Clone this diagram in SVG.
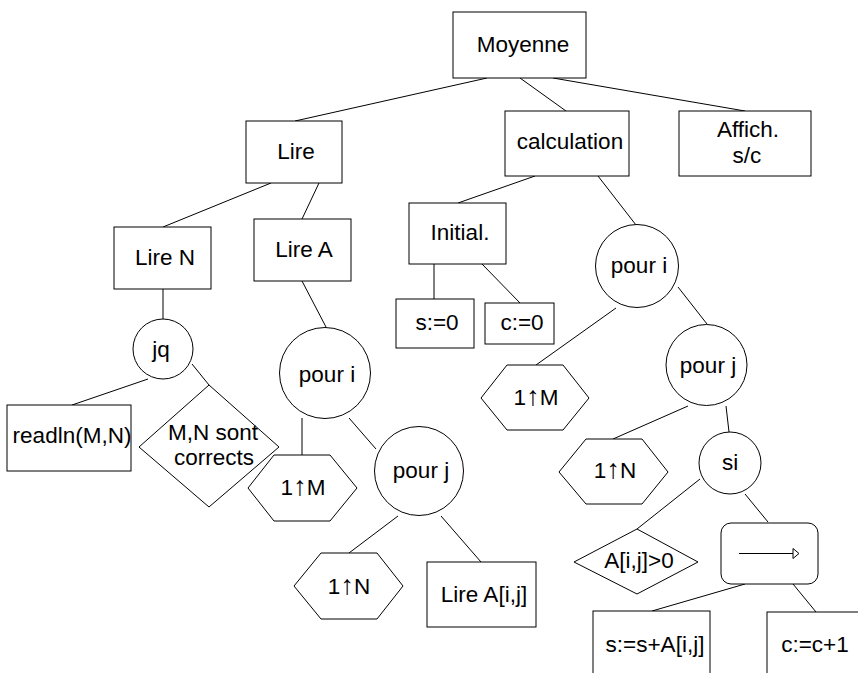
<svg xmlns="http://www.w3.org/2000/svg" width="858" height="673" viewBox="0 0 858 673">
<defs>
<style>
.s{fill:#fff;stroke:#000;stroke-width:1}
.c line{stroke:#000;stroke-width:1}
text{font-family:"Liberation Sans",Arial,sans-serif;font-size:22.5px;fill:#000;text-anchor:middle}
.ar{font-size:27px}
</style>
</defs>
<rect width="858" height="673" fill="#fff"/>
<g id="connectors" class="c">
<line x1="487" y1="78" x2="295" y2="121"/>
<line x1="520" y1="78" x2="566" y2="111"/>
<line x1="553" y1="78" x2="745" y2="111"/>
<line x1="271" y1="183" x2="163" y2="227"/>
<line x1="319" y1="183" x2="302" y2="219"/>
<line x1="163" y1="289" x2="163" y2="319"/>
<line x1="148" y1="379" x2="72" y2="405"/>
<line x1="192" y1="364" x2="209" y2="385"/>
<line x1="302" y1="281" x2="326" y2="327"/>
<line x1="302" y1="418" x2="302" y2="455"/>
<line x1="349" y1="418" x2="376" y2="449"/>
<line x1="398" y1="516" x2="349" y2="553"/>
<line x1="441" y1="516" x2="481" y2="562"/>
<line x1="535" y1="176" x2="458" y2="203"/>
<line x1="598" y1="176" x2="636" y2="225"/>
<line x1="434" y1="264" x2="434" y2="299"/>
<line x1="482" y1="264" x2="520" y2="303"/>
<line x1="616" y1="308" x2="536" y2="365"/>
<line x1="678" y1="287" x2="707" y2="324"/>
<line x1="688" y1="406" x2="613" y2="439"/>
<line x1="726" y1="406" x2="729" y2="432"/>
<line x1="700" y1="479" x2="637" y2="529"/>
<line x1="745" y1="494" x2="768" y2="522"/>
<line x1="745" y1="584" x2="652" y2="611"/>
<line x1="793" y1="584" x2="816" y2="612"/>
</g>
<g id="moyenne"><rect class="s" x="453" y="12" width="133" height="66"/><text x="523" y="52">Moyenne</text></g>
<g id="lire"><rect class="s" x="246" y="121" width="96" height="62"/><text x="296" y="159">Lire</text></g>
<g id="calculation"><rect class="s" x="505" y="111" width="124" height="65"/><text x="570" y="149">calculation</text></g>
<g id="affich"><rect class="s" x="679" y="111" width="132" height="65"/><text x="748" y="137">Affich.</text><text x="747" y="163">s/c</text></g>
<g id="lireN"><rect class="s" x="114" y="227" width="97" height="62"/><text x="165" y="265">Lire N</text></g>
<g id="lireA"><rect class="s" x="254" y="219" width="97" height="62"/><text x="304" y="257">Lire A</text></g>
<g id="jq"><circle class="s" cx="163" cy="349" r="30"/><text x="161" y="357">jq</text></g>
<g id="readln"><rect class="s" x="7" y="405" width="124" height="66"/><text x="72" y="443">readln(M,N)</text></g>
<g id="correct"><polygon class="s" points="209,385 279,447 209,507 139,447"/><text x="213" y="440">M,N sont</text><text x="214" y="465">corrects</text></g>
<g id="pouriA"><circle class="s" cx="325" cy="373" r="45.5"/><text x="327" y="382">pour i</text></g>
<g id="hexM1"><polygon class="s" points="248,488 274,455 330,455 357,488 330,521 274,521"/><text x="303" y="495">1<tspan class="ar">↑</tspan>M</text></g>
<g id="pourjA"><circle class="s" cx="419" cy="471" r="44.5"/><text x="421" y="478">pour j</text></g>
<g id="hexN1"><polygon class="s" points="294,586 321,553 377,553 403,586 377,619 321,619"/><text x="349" y="594">1<tspan class="ar">↑</tspan>N</text></g>
<g id="lireAij"><rect class="s" x="427" y="562" width="109" height="65"/><text x="484" y="602">Lire A[i,j]</text></g>
<g id="initial"><rect class="s" x="409" y="203" width="97" height="61"/><text x="460" y="240">Initial.</text></g>
<g id="s0"><rect class="s" x="396" y="299" width="78" height="49"/><text x="437" y="330">s:=0</text></g>
<g id="c0"><rect class="s" x="485" y="303" width="69" height="41"/><text x="522" y="330">c:=0</text></g>
<g id="pouriC"><circle class="s" cx="637" cy="266" r="41.5"/><text x="639" y="273">pour i</text></g>
<g id="hexM2"><polygon class="s" points="481,398 507,365 563,365 589,398 563,430 507,430"/><text x="536" y="405">1<tspan class="ar">↑</tspan>M</text></g>
<g id="pourjC"><circle class="s" cx="706.5" cy="365" r="40.5"/><text x="708" y="373">pour j</text></g>
<g id="hexN2"><polygon class="s" points="559,472 586,439 642,439 668,472 642,504 586,504"/><text x="615" y="478">1<tspan class="ar">↑</tspan>N</text></g>
<g id="si"><circle class="s" cx="730" cy="463" r="31"/><text x="730" y="470">si</text></g>
<g id="cond"><polygon class="s" points="637,529 698,562 637,594 574,562"/><text x="639" y="568">A[i,j]&gt;0</text></g>
<g id="seq"><rect class="s" x="721" y="523" width="97" height="61" rx="10" ry="10"/><line x1="739" y1="553.5" x2="798" y2="553.5" stroke="#000"/><polygon class="s" points="793,548.5 799,553.5 793,558.5"/></g>
<g id="sum"><rect class="s" x="593" y="611" width="117" height="80"/><text x="655" y="652">s:=s+A[i,j]</text></g>
<g id="count"><rect class="s" x="767" y="612" width="110" height="80"/><text x="815" y="652">c:=c+1</text></g>
</svg>
